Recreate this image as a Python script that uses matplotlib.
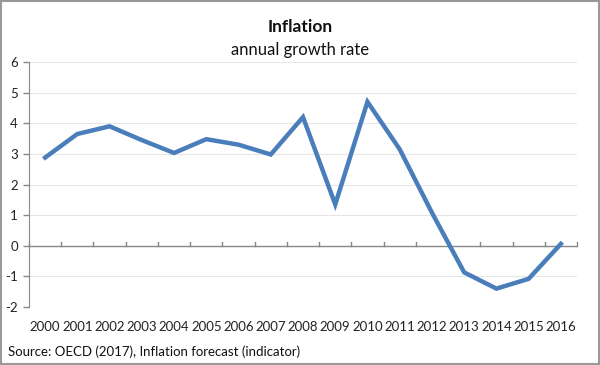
import matplotlib
matplotlib.use("Agg")
import matplotlib.pyplot as plt
from matplotlib.patches import Rectangle

years = list(range(2000, 2017))
year_labels = [str(y) for y in years]
inflation = [2.88, 3.65, 3.9, 3.45, 3.03, 3.48, 3.3, 2.98, 4.2, 1.35, 4.7, 3.15, 1.08, -0.87, -1.4, -1.08, 0.06]
yticks = [-2, -1, 0, 1, 2, 3, 4, 5, 6]

plt.rcParams['font.family'] = ['Lato', 'DejaVu Sans']

fig = plt.figure(figsize=(6.0, 3.65), dpi=100)
ax = fig.add_axes([29/600, 1 - 307/365, (577-29)/600, (307-62)/365])

x = list(range(len(years)))
ax.plot(x, inflation, color='#4a7ebb', lw=3.2, solid_joinstyle='miter', zorder=3)

ax.set_xlim(-0.5, len(years) - 0.5)
ax.set_ylim(-2, 6)
ax.set_yticks(yticks)
ax.set_yticklabels([str(v) for v in yticks], fontsize=9.5, color='#222222')
for v in yticks:
    ax.axhline(v, color='#e6e6e6', lw=0.8, zorder=1)
ax.axhline(0, color='#888888', lw=1.0, zorder=2)

# category ticks between categories on the zero line
for i in range(len(years) + 1):
    ax.plot([i - 0.5, i - 0.5], [0, 0.13], color='#888888', lw=1.0, zorder=2, clip_on=False)

ax.set_xticks(x)
ax.set_xticklabels(year_labels, fontsize=9.5, color='#222222')
ax.tick_params(axis='x', length=0, pad=10)
ax.tick_params(axis='y', length=4, color='#888888', pad=4, width=1.0)
for s in ['top', 'right', 'bottom']:
    ax.spines[s].set_visible(False)
ax.spines['left'].set_color('#888888')
ax.set_facecolor('white')

fig.text(0.5, 1 - 27/365, 'Inflation', ha='center', va='center', fontsize=12.5, fontweight='bold', color='#111111')
fig.text(0.5, 1 - 50/365, 'annual growth rate', ha='center', va='center', fontsize=12, color='#111111')
fig.text(8/600, 1 - 352/365, 'Source: OECD (2017), Inflation forecast (indicator)', ha='left', va='center', fontsize=9.5, color='#111111')

fig.patches.append(Rectangle((0.0015, 0.0025), 0.997, 0.995, transform=fig.transFigure, fill=False, edgecolor='#999999', lw=1.5))

fig.savefig('out.png', dpi=100)
